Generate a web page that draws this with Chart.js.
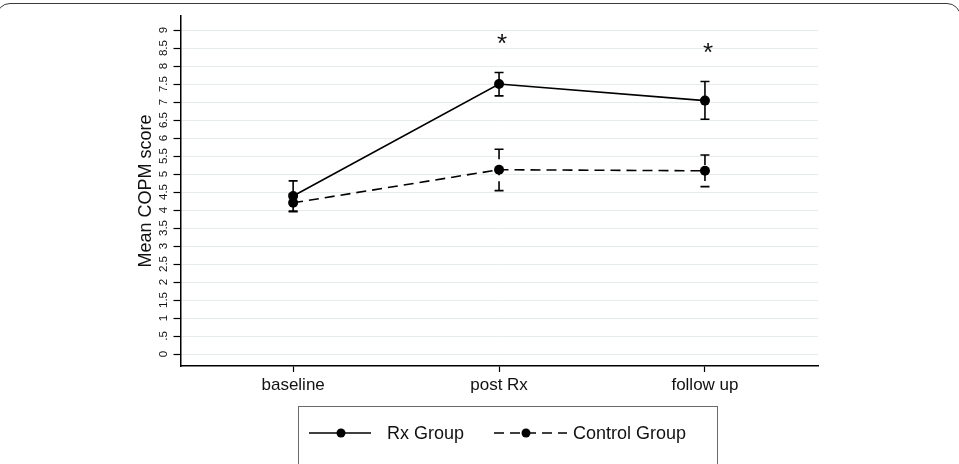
<!DOCTYPE html>
<html><head><meta charset="utf-8">
<script src="https://cdn.jsdelivr.net/npm/chart.js@4"></script>
<style>
html,body{margin:0;padding:0;background:#fff;}
#wrap{position:relative;width:959px;height:464px;overflow:hidden;background:#fff;}
#frame{position:absolute;left:-4px;top:3px;width:965px;height:540px;border:1.5px solid #3a3a3a;border-radius:14px;box-sizing:border-box;}
canvas{position:absolute;left:0;top:0;}
#legend{position:absolute;left:298px;top:406px;width:420px;height:80px;border:1.5px solid #6a6a6a;box-sizing:border-box;font-family:"Liberation Sans",Arial,sans-serif;font-size:18px;color:#111;}
#legend .it{position:absolute;top:14px;height:24px;line-height:24px;white-space:nowrap;}
#legend svg{position:absolute;top:0;}
</style>
</head><body>
<div id="wrap">
<div id="frame"></div>
<canvas id="c" width="959" height="464"></canvas>
<div id="legend">
  <div class="it" style="left:9px;">
    <svg width="66" height="24"><line x1="1" y1="12" x2="63" y2="12" stroke="#000" stroke-width="1.6"/><circle cx="33" cy="12" r="4.5" fill="#000"/></svg>
    <span style="position:absolute;left:79px;">Rx Group</span>
  </div>
  <div class="it" style="left:194px;">
    <svg width="76" height="24"><line x1="1" y1="12" x2="74" y2="12" stroke="#000" stroke-width="1.6" stroke-dasharray="10,6"/><circle cx="33" cy="12" r="4.5" fill="#000"/></svg>
    <span style="position:absolute;left:80px;">Control Group</span>
  </div>
</div>
</div>
<script>
// ---- data ----
const categories = ['baseline', 'post Rx', 'follow up'];
const rxMean  = [4.39, 7.50, 7.04];
const rxLower = [3.97, 7.17, 6.52];
const rxUpper = [4.81, 7.82, 7.57];
const ctrlMean  = [4.20, 5.12, 5.09];
const ctrlLower = [3.95, 4.54, 4.65];
const ctrlUpper = [4.45, 5.69, 5.53];
const significance = ['', '*', '*'];
const yTickValues = [0,0.5,1,1.5,2,2.5,3,3.5,4,4.5,5,5.5,6,6.5,7,7.5,8,8.5,9];
const yTickLabels = ['0','.5','1','1.5','2','2.5','3','3.5','4','4.5','5','5.5','6','6.5','7','7.5','8','8.5','9'];
const seriesNames = ['Rx Group', 'Control Group'];

const FONT = '"Liberation Sans", Arial, sans-serif';

const toPts = arr => arr.map((v, i) => ({x: i + 1, y: v}));

const errorBars = {
  id: 'errorBars',
  beforeDatasetsDraw(chart) {
    const {ctx, scales: {x, y}} = chart;
    chart.data.datasets.forEach(ds => {
      ctx.save();
      ctx.strokeStyle = '#000';
      ctx.lineWidth = 1.6;
      ctx.setLineDash(ds.borderDash || []);
      ds.lower.forEach((lo, i) => {
        const px = x.getPixelForValue(i + 1);
        const pLo = y.getPixelForValue(lo);
        const pHi = y.getPixelForValue(ds.upper[i]);
        ctx.beginPath();
        ctx.moveTo(px, pHi); ctx.lineTo(px, pLo);
        ctx.stroke();
        ctx.beginPath();
        ctx.moveTo(px - 4.5, pHi); ctx.lineTo(px + 4.5, pHi);
        ctx.moveTo(px - 4.5, pLo); ctx.lineTo(px + 4.5, pLo);
        ctx.stroke();
      });
      ctx.restore();
    });
  },
  afterDraw(chart) {
    const {ctx, scales: {x, y}} = chart;
    ctx.save();
    // y tick labels, rotated
    ctx.fillStyle = '#111';
    ctx.font = '11.5px ' + FONT;
    ctx.textAlign = 'center';
    ctx.textBaseline = 'middle';
    yTickValues.forEach((v, i) => {
      const py = y.getPixelForValue(v);
      ctx.save();
      ctx.translate(x.left - 17, py);
      ctx.rotate(-Math.PI / 2);
      ctx.fillText(yTickLabels[i], 0, 0);
      ctx.restore();
    });
    // significance asterisks
    ctx.font = '26px ' + FONT;
    ctx.textBaseline = 'alphabetic';
    significance.forEach((s, i) => {
      if (!s) return;
      const px = x.getPixelForValue(i + 1);
      const py = y.getPixelForValue(rxUpper[i]);
      ctx.fillText(s, px + 3, py - 21);
    });
    ctx.restore();
  }
};

new Chart(document.getElementById('c'), {
  type: 'line',
  data: {
    datasets: [
      {label: seriesNames[0], data: toPts(rxMean), lower: rxLower, upper: rxUpper,
       borderColor: '#000', backgroundColor: '#000', borderWidth: 1.6,
       pointRadius: 5, pointBackgroundColor: '#000', pointBorderWidth: 0, tension: 0},
      {label: seriesNames[1], data: toPts(ctrlMean), lower: ctrlLower, upper: ctrlUpper,
       borderColor: '#000', backgroundColor: '#000', borderWidth: 1.6, borderDash: [10, 6],
       pointRadius: 5, pointBackgroundColor: '#000', pointBorderWidth: 0, tension: 0}
    ]
  },
  options: {
    responsive: false,
    animation: false,
    devicePixelRatio: 1,
    layout: {padding: {left: 0, top: 16, right: 141, bottom: 0}},
    plugins: {legend: {display: false}, tooltip: {enabled: false}},
    scales: {
      x: {
        type: 'linear', min: 0.453, max: 3.549,
        afterBuildTicks: s => { s.ticks = categories.map((c, i) => ({value: i + 1})); },
        afterFit: s => { s.height = 98; },
        ticks: {callback: v => categories[v - 1], color: '#111', font: {family: FONT, size: 17}, padding: 3, maxRotation: 0, autoSkip: false},
        grid: {drawOnChartArea: false, drawTicks: true, tickLength: 6, tickColor: '#000', tickWidth: 1.2},
        border: {display: true, color: '#000', width: 1.5}
      },
      y: {
        min: -0.333, max: 9.39,
        afterBuildTicks: s => { s.ticks = yTickValues.map(v => ({value: v})); },
        afterFit: s => { s.width = 180.5; },
        ticks: {display: false},
        title: {display: true, text: 'Mean COPM score', color: '#111', font: {family: FONT, size: 18}, padding: {top: 135, bottom: 0}},
        grid: {color: '#e6ecee', lineWidth: 1, drawTicks: true, tickLength: 7, tickColor: '#000', tickWidth: 1.2},
        border: {display: true, color: '#000', width: 1.5}
      }
    }
  },
  plugins: [errorBars]
});
</script>
</body></html>
